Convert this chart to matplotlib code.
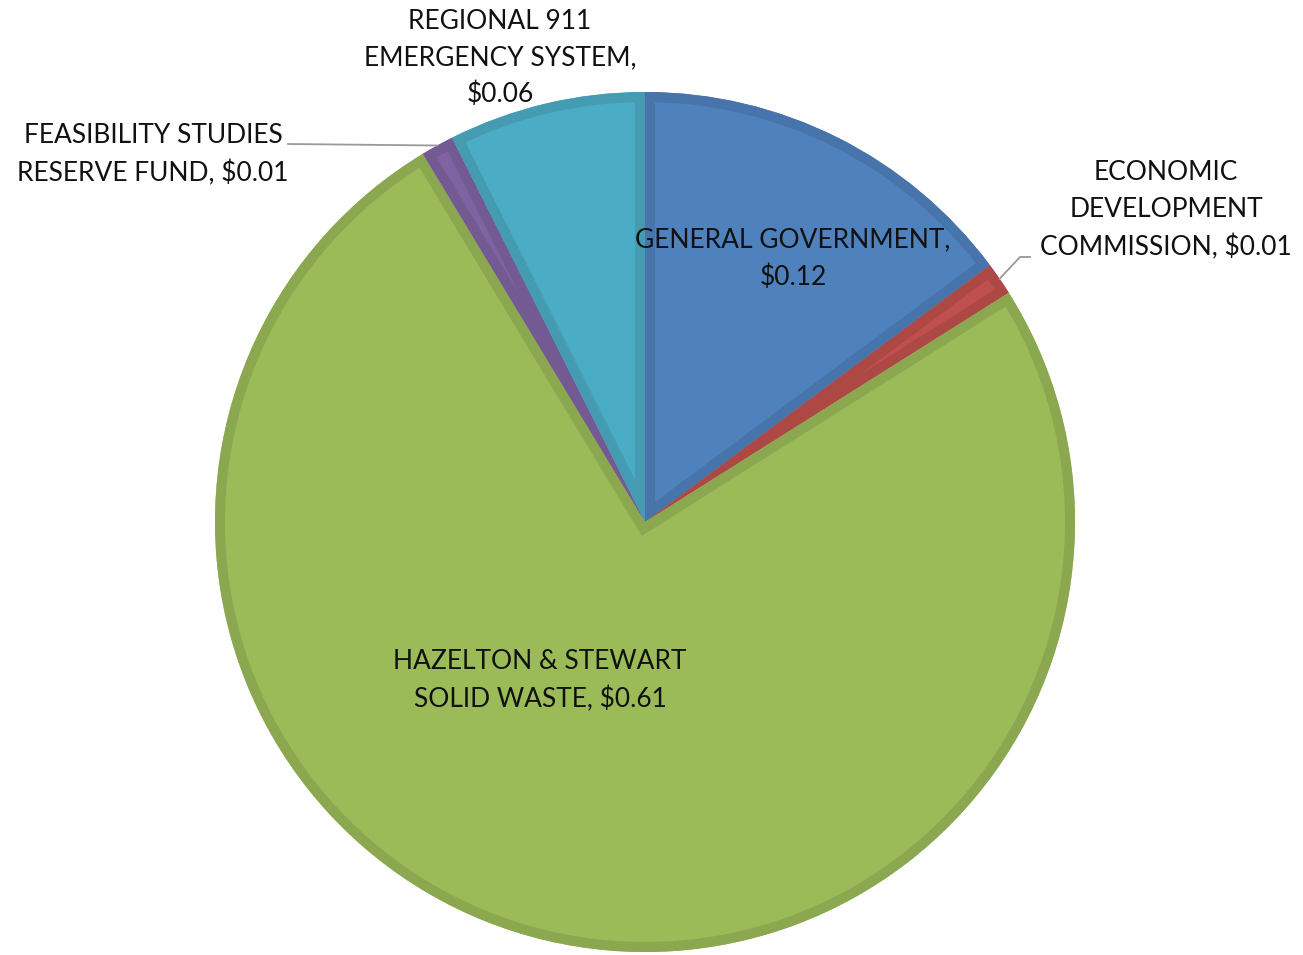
import matplotlib
matplotlib.use("Agg")
import matplotlib.pyplot as plt
from matplotlib.patches import Wedge
from matplotlib.colors import to_rgb
import numpy as np

# Levy per category (dollars)
categories = [
    "GENERAL GOVERNMENT",
    "ECONOMIC\nDEVELOPMENT\nCOMMISSION",
    "HAZELTON & STEWART\nSOLID WASTE",
    "FEASIBILITY STUDIES\nRESERVE FUND",
    "REGIONAL 911\nEMERGENCY SYSTEM",
]
values = [0.12, 0.01, 0.61, 0.01, 0.06]
separators = [",\n", ", ", ", ", ", ", ",\n"]
colors = ["#4F81BD", "#C0504D", "#9BBB59", "#8064A2", "#4BACC6"]

W, H = 1303, 955
fig = plt.figure(figsize=(W / 100, H / 100), dpi=100)
ax = fig.add_axes([0, 0, 1, 1])

cx, cy, R = 645, H - 522, 430
wedges, _ = ax.pie(values, startangle=90, counterclock=False, radius=R,
                   center=(cx, cy), colors=colors,
                   wedgeprops=dict(linewidth=0))

# darker inner outline on every slice
for w, c in zip(wedges, colors):
    dark = tuple(v * 0.9 for v in to_rgb(c))
    rim = Wedge(w.center, w.r, w.theta1, w.theta2, fill=False,
                edgecolor=dark, linewidth=14.4, joinstyle="miter")
    rim.set_clip_path(w)
    ax.add_patch(rim)

ax.set_xlim(0, W)
ax.set_ylim(0, H)
ax.set_aspect("equal")
ax.axis("off")

labels = [f"{n}{s}${v:.2f}" for n, s, v in zip(categories, separators, values)]
font = dict(family="Lato", fontsize=19, color="#111111", ha="center",
            va="center", linespacing=1.58)

# label anchor positions (pixels from top-left)
label_pos = [(793, 259), (1166, 210), (540, 681), (153, 155), (500, 58)]
for lab, (x, y) in zip(labels, label_pos):
    ax.text(x, H - y, lab, **font)


def edge_point(w):
    mid = np.deg2rad((w.theta1 + w.theta2) / 2)
    return cx + R * np.cos(mid), cy + R * np.sin(mid)


# leader lines for the two small outside labels
ex, ey = edge_point(wedges[3])
ax.plot([288, ex], [H - 144, ey], color="#999999", lw=1.3)
ex, ey = edge_point(wedges[1])
ax.plot([1030, 1020, ex], [H - 257, H - 257, ey], color="#999999", lw=1.3)

fig.savefig("out.png", dpi=100)
